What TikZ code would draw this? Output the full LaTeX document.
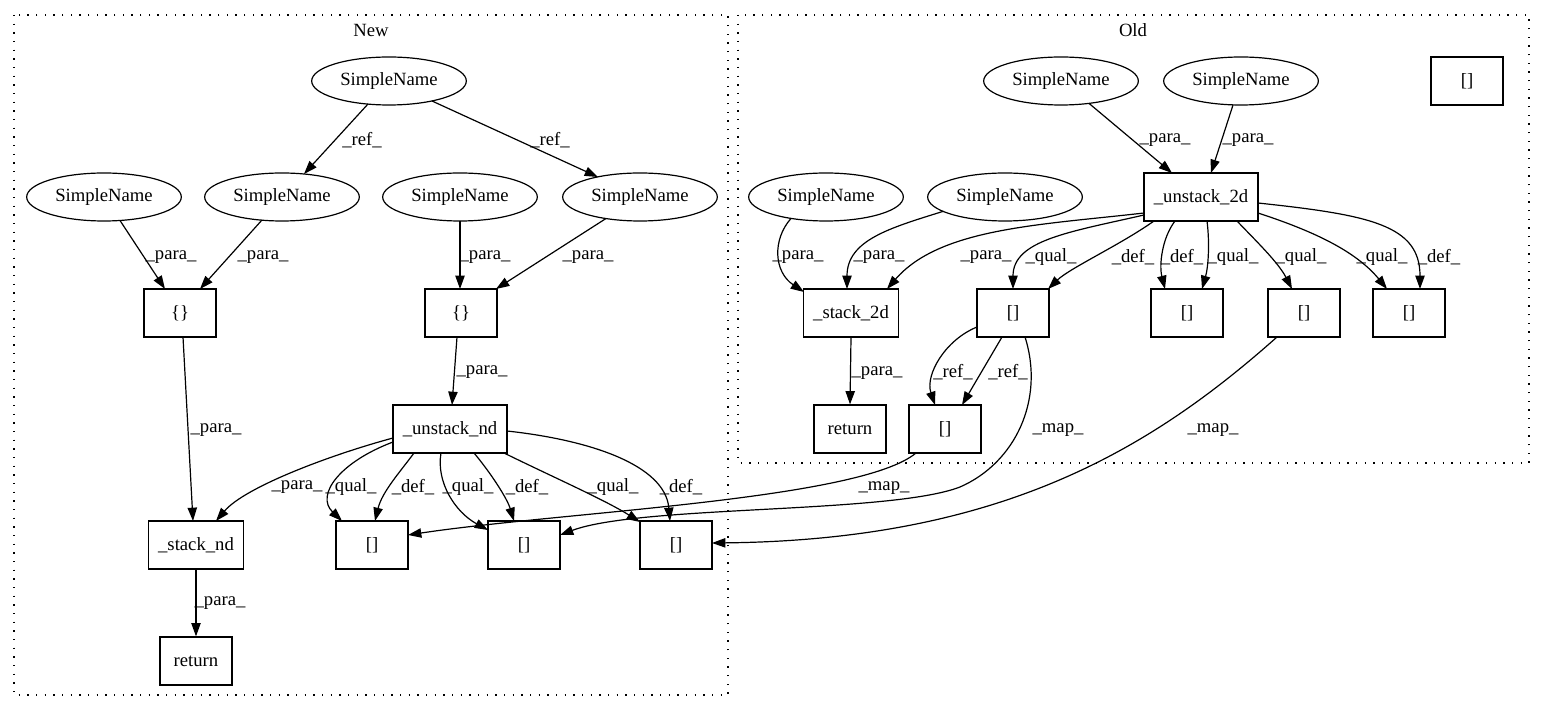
\documentclass[tikz,border=0pt]{standalone}
\usepackage{fontspec}
\setmainfont{Liberation Serif}
\usetikzlibrary{arrows.meta,calc,shapes.geometric}
\begin{document}
\begin{tikzpicture}[x=0.75pt,y=-0.75pt,
  every node/.style={font=\fontsize{14}{16}\selectfont},
  el/.style={ellipse,draw,line width=0.9pt,minimum width=116pt,minimum height=36pt,inner sep=0pt},
  bx/.style={rectangle,draw,line width=0.9pt,minimum width=54pt,minimum height=36pt,inner sep=0pt},
  arr/.style={line width=0.9pt,-{Triangle[length=10pt,width=7pt]}},
  lbl/.style={inner sep=0pt},
  clus/.style={line width=0.9pt,dash pattern=on 1pt off 5.5pt}]
\useasboundingbox (0,0) rectangle (1545,712);
\fill[white] (0,0) rectangle (1545,712);
% clusters
\draw[clus] (14,15) rectangle (728,695);
\draw[clus] (738,15) rectangle (1529,463);
\node[lbl] (tNew) at (371,30) {New};
\node[lbl] (tOld) at (1133,30) {Old};
% New nodes
\node[el] (snTop) at (389,81) {SimpleName};
\node[el] (snA) at (104,197) {SimpleName};
\node[el] (snB) at (282,197) {SimpleName};
\node[el] (snC) at (460,197) {SimpleName};
\node[el] (snD) at (640,197) {SimpleName};
\node[bx] (brA) at (180,313) {\{\}};
\node[bx] (brB) at (461,313) {\{\}};
\node[bx,minimum width=85.5pt] (unNd) at (450,429) {\_unstack\_nd};
\node[bx,minimum width=71pt] (stNd) at (196,545) {\_stack\_nd};
\node[bx] (bk1) at (372,545) {[]};
\node[bx] (bk2) at (524,545) {[]};
\node[bx] (bk3) at (676,545) {[]};
\node[bx] (retN) at (196,661) {return};
% Old nodes
\node[el] (snO1) at (1061,81) {SimpleName};
\node[el] (snO2) at (1241,81) {SimpleName};
\node[bx] (alone) at (1467,81) {[]};
\node[el] (snO3) at (826,197) {SimpleName};
\node[el] (snO4) at (1005,197) {SimpleName};
\node[bx,minimum width=85.5pt] (un2d) at (1201,197) {\_unstack\_2d};
\node[bx,minimum width=71pt] (st2d) at (851,313) {\_stack\_2d};
\node[bx] (bo1) at (1013,313) {[]};
\node[bx] (bo2) at (1187,313) {[]};
\node[bx] (bo3) at (1304,313) {[]};
\node[bx] (bo4) at (1409,313) {[]};
\node[bx] (retO) at (850,429) {return};
\node[bx] (bo5) at (945,429) {[]};
% New edges
\draw[arr] ($(snTop)+(-21,23)$) -- ($(snB)+(22,-23)$);
\draw[arr] ($(snTop)+(43,20)$) -- ($(snD)+(-42,-20)$);
\draw[arr] ($(snA)+(16,23.5)$) -- ($(brA)+(-15,-24)$);
\draw[arr] ($(snB)+(-20,23)$) -- ($(brA)+(20,-24)$);
\draw[arr] ($(snC)+(0,24)$) -- ($(brB)+(-1,-24)$);
\draw[arr] ($(snD)+(-34,21.5)$) -- ($(brB)+(35,-24)$);
\draw[arr] ($(brA)+(3,24)$) -- ($(stNd)+(-3,-24)$);
\draw[arr] ($(brB)+(-4,24)$) -- ($(unNd)+(2,-24)$);
\draw[arr] ($(unNd)+(-57,9)$) .. controls (330,455) and (245,487) .. ($(stNd)+(20,-24)$);
\draw[arr] ($(unNd)+(-57,13)$) .. controls (340,462) and (315,495) .. ($(bk1)+(-30,-24)$);
\draw[arr] ($(unNd)+(-36,24)$) .. controls (400,472) and (382,492) .. ($(bk1)+(3,-24)$);
\draw[arr] ($(unNd)+(-9,24)$) .. controls (436,482) and (455,512) .. ($(bk2)+(-36,-15)$);
\draw[arr] ($(unNd)+(24,24)$) .. controls (490,472) and (507,498) .. ($(bk2)+(-10,-24)$);
\draw[arr] ($(unNd)+(54,24)$) .. controls (555,478) and (605,500) .. ($(bk3)+(-36,-23)$);
\draw[arr] ($(unNd)+(57,2)$) .. controls (590,440) and (665,465) .. ($(bk3)+(-6,-24)$);
\draw[arr] (stNd.south) -- (retN.north);
% Old edges
\draw[arr] ($(snO1)+(28,22.4)$) -- ($(un2d)+(-29,-24)$);
\draw[arr] ($(snO2)+(-8,24)$) -- ($(un2d)+(10,-24)$);
\draw[arr] ($(snO3)+(-35,21.4)$) .. controls (772,240) and (774,272) .. ($(st2d)+(-47,-21)$);
\draw[arr] ($(snO4)+(-62,14.4)$) .. controls (890,228) and (847,240) .. ($(st2d)+(-4,-24)$);
\draw[arr] ($(un2d)+(-57,16)$) .. controls (1040,225) and (940,228) .. ($(st2d)+(36,-24)$);
\draw[arr] ($(un2d)+(-57,18)$) .. controls (1070,232) and (1013,240) .. ($(bo1)+(0,-24)$);
\draw[arr] ($(un2d)+(-47,24)$) .. controls (1120,245) and (1070,268) .. ($(bo1)+(35,-24)$);
\draw[arr] ($(un2d)+(-26,24)$) .. controls (1162,238) and (1159,265) .. ($(bo2)+(-22,-24)$);
\draw[arr] ($(un2d)+(6,24)$) .. controls (1210,245) and (1208,268) .. ($(bo2)+(15,-24)$);
\draw[arr] ($(un2d)+(36,24)$) .. controls (1255,240) and (1278,262) .. ($(bo3)+(-12,-24)$);
\draw[arr] ($(un2d)+(57,16)$) .. controls (1310,230) and (1355,250) .. ($(bo4)+(-22,-24)$);
\draw[arr] ($(un2d)+(57,6)$) .. controls (1370,215) and (1420,225) .. ($(bo4)+(11,-24)$);
\draw[arr] (st2d.south) -- (retO.north);
\draw[arr] ($(bo1)+(-36,14)$) .. controls (945,340) and (925,375) .. ($(bo5)+(-10,-24)$);
\draw[arr] ($(bo1)+(-11,24)$) -- ($(bo5)+(17,-24)$);
\draw[arr] ($(bo1)+(12,24)$) .. controls (1045,400) and (1015,463) .. (960,487) .. controls (890,514) and (640,505) .. ($(bk2)+(36,-10)$);
\draw[arr] ($(bo3)+(-27,24)$) .. controls (1150,450) and (1000,540) .. ($(bk3)+(36,-2)$);
\draw[arr] ($(bo5)+(-29,24)$) .. controls (860,500) and (560,512) .. ($(bk1)+(36,-10)$);
% New labels
\node[lbl] (l1) at (362,140) {\_ref\_};
\node[lbl] (l2) at (550,140) {\_ref\_};
\node[lbl] (l3) at (171,257) {\_para\_};
\node[lbl] (l4) at (263,257) {\_para\_};
\node[lbl] (l5) at (485,257) {\_para\_};
\node[lbl] (l6) at (588,257) {\_para\_};
\node[lbl] (l7) at (216,430) {\_para\_};
\node[lbl] (l8) at (482,372) {\_para\_};
\node[lbl] (l9) at (297,487) {\_para\_};
\node[lbl] (l10) at (351,487) {\_qual\_};
\node[lbl] (l11) at (413,487) {\_def\_};
\node[lbl] (l12) at (468,487) {\_qual\_};
\node[lbl] (l13) at (527,487) {\_def\_};
\node[lbl] (l14) at (613,487) {\_qual\_};
\node[lbl] (l15) at (681,487) {\_def\_};
\node[lbl] (l16) at (220,603) {\_para\_};
% Old labels
\node[lbl] (m1) at (1165,140) {\_para\_};
\node[lbl] (m2) at (1248,140) {\_para\_};
\node[lbl] (m3) at (798,257) {\_para\_};
\node[lbl] (m4) at (879,257) {\_para\_};
\node[lbl] (m5) at (986,257) {\_para\_};
\node[lbl] (m6) at (1051,257) {\_qual\_};
\node[lbl] (m7) at (1133,257) {\_def\_};
\node[lbl] (m8) at (1182,257) {\_def\_};
\node[lbl] (m9) at (1233,257) {\_qual\_};
\node[lbl] (m10) at (1301,257) {\_qual\_};
\node[lbl] (m11) at (1382,257) {\_qual\_};
\node[lbl] (m12) at (1439,257) {\_def\_};
\node[lbl] (m13) at (877,373) {\_para\_};
\node[lbl] (m14) at (953,372) {\_ref\_};
\node[lbl] (m15) at (1008,372) {\_ref\_};
\node[lbl] (m16) at (1058,430) {\_map\_};
\node[lbl] (m17) at (1213,430) {\_map\_};
\node[lbl] (m18) at (884,488) {\_map\_};
\end{tikzpicture}
\end{document}
